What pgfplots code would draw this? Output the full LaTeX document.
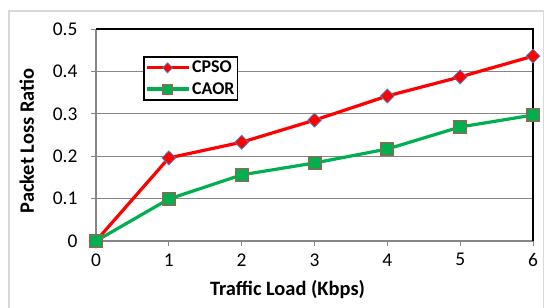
\documentclass[border=0pt]{standalone}
\usepackage{fontspec}
\setmainfont{Carlito}
\usepackage{pgfplots}
\pgfplotsset{compat=1.18}
\definecolor{gridgray}{RGB}{134,134,134}
\definecolor{cred}{RGB}{255,0,0}
\definecolor{cgreen}{RGB}{0,176,80}
\definecolor{cblue}{RGB}{79,129,189}
\definecolor{cedge}{RGB}{192,80,77}
\begin{document}
\begin{tikzpicture}[x=1bp,y=1bp]
\useasboundingbox (-96,-66) rectangle (448,241);
\begin{scope}
\clip (-96,-66) rectangle (448,241);
\draw[draw={rgb,255:red,217;green,217;blue,217},line width=1.2bp] (-87,-100) rectangle (447.5,230);
\end{scope}
\begin{axis}[
  at={(0,0)}, anchor=south west,
  scale only axis, width=437bp, height=212bp,
  xmin=0, xmax=6, ymin=0, ymax=0.5,
  xtick={0,1,2,3,4,5,6}, ytick={0,0.1,0.2,0.3,0.4,0.5},
  yticklabels={0,0.1,0.2,0.3,0.4,0.5},
  axis line style={draw=none},
  ymajorgrids, grid style={gridgray, line width=1.1bp},
  tick align=outside, major tick length=5bp,
  tick style={gridgray, line width=1bp},
  xtick pos=bottom, ytick pos=left,
  /pgf/number format/assume math mode=true,
  tick label style={font=\fontsize{19.5}{20}\selectfont, black},
  xticklabel style={yshift=-4bp},
  yticklabel style={xshift=-10bp},
  xlabel={\textbf{Traffic Load (Kbps)}},
  ylabel={\textbf{Packet Loss Ratio}},
  label style={font=\fontsize{20.5}{21}\selectfont},
  xlabel style={yshift=-7bp, xshift=-27bp},
  ylabel style={yshift=12bp, xshift=-6bp},
  clip=false,
  legend style={at={(rel axis cs:0.108,0.873)}, anchor=north west, draw=black, line width=1.6bp,
    font=\bfseries\fontsize{18}{19}\selectfont, inner xsep=1bp, inner ysep=2.5bp, row sep=4bp},
  legend cell align=left,
  legend image code/.code={\draw[mark repeat=2,mark phase=2, mark size=5bp] plot coordinates {(0bp,0bp)(21bp,0bp)(42bp,0bp)};},
]
\draw[gridgray, line width=1.1bp] (rel axis cs:0,0) -- (rel axis cs:1,0);
\draw[gridgray, line width=1.1bp] (rel axis cs:0,0) -- (rel axis cs:0,1);
\draw[black, line width=1.1bp] (rel axis cs:0,1) -- (rel axis cs:1,1) -- (rel axis cs:1,0);
\addplot[cred, line width=3.2bp, mark=diamond*, mark size=7bp,
  mark options={fill=cred, draw=cblue, line width=0.8bp, xscale=1.3}]
  coordinates {(0,0) (1,0.196) (2,0.233) (3,0.285) (4,0.342) (5,0.387) (6,0.436)};
\addlegendentry{CPSO}
\addplot[cgreen, line width=3.2bp, mark=square*, mark size=6.5bp,
  mark options={fill=cgreen, draw=cedge, line width=0.8bp}]
  coordinates {(0,0) (1,0.099) (2,0.156) (3,0.184) (4,0.217) (5,0.269) (6,0.297)};
\addlegendentry{CAOR}
\end{axis}
\end{tikzpicture}
\end{document}
